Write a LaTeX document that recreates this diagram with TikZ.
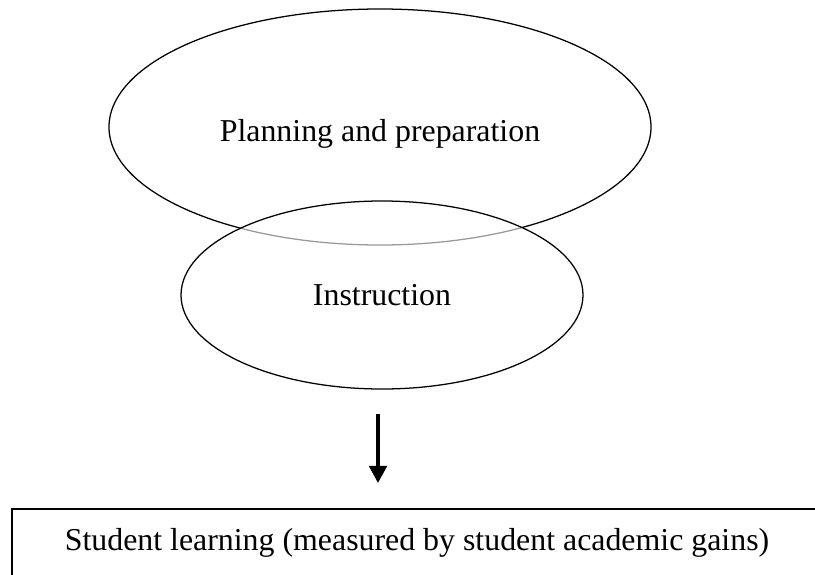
\documentclass[tikz,border=0pt]{standalone}
\usepackage{fontspec}
\setmainfont{Liberation Serif}
\usetikzlibrary{shapes.geometric,arrows.meta}

\tikzset{
  stage/.style={draw,ellipse,line width=0.95pt,inner sep=0pt},
  outcome/.style={draw,rectangle,line width=1.3pt,inner sep=0pt},
  flow/.style={-{Triangle[length=13pt,width=13pt]},line width=3.6pt}
}

\begin{document}
\begin{tikzpicture}[x=0.75pt,y=-0.75pt]
  \useasboundingbox (0,0) rectangle (815,575);
  \clip (0,0) rectangle (815,575);
  \fontsize{23.9}{28}\selectfont

  % the two stages
  \node[stage,minimum width=406.5pt,minimum height=177pt] (plan) at (380,127) {};
  \node[stage,fill=white,fill opacity=0.6,text opacity=1,
        minimum width=301.5pt,minimum height=141pt] (inst) at (382,295) {Instruction};
  \node at (380,134) {Planning and preparation};

  % outcome
  \node[outcome,minimum width=607.5pt,minimum height=51pt] (learn) at (417,543)
    {Student learning (measured by student academic gains)};

  \draw[flow,shorten <=18pt,shorten >=18.75pt]
    ([xshift=-3pt]inst.south) -- ([xshift=-3pt]inst.south |- learn.north);
\end{tikzpicture}
\end{document}
